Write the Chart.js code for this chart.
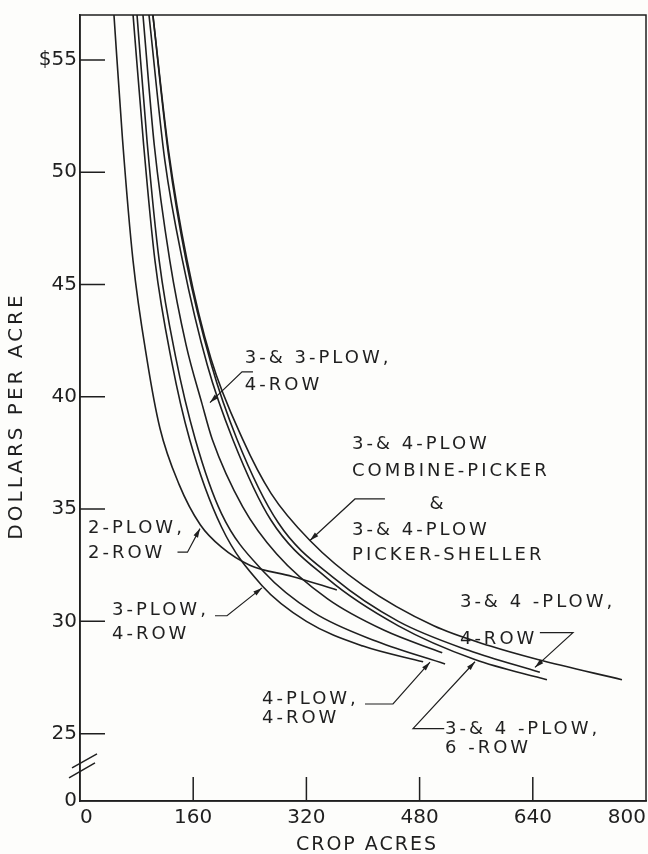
<!DOCTYPE html>
<html>
<head>
<meta charset="utf-8">
<script src="https://cdn.jsdelivr.net/npm/chart.js@4.4.0/dist/chart.umd.min.js"></script>
<style>
  html, body { margin: 0; padding: 0; background: #fdfdfb; }
  #wrap { width: 648px; height: 854px; }
</style>
</head>
<body>
<div id="wrap"><canvas id="chart" width="648" height="854"></canvas></div>
<script>
// crop acres -> dollars per acre
const twoPlow2Row = [[48,57],[60,51.5],[75,46.05],[95,41.6],[113,38.6],[140,36.1],[170,34.3],[200,33.3],[240,32.5],[300,32.0],[363,31.4]];
const threePlow4Row = [[75,57],[90,51.2],[106,46.05],[130,41.5],[155,38.1],[200,34.2],[257,31.6],[320,30.0],[400,28.9],[485,28.2]];
const fourPlow4Row = [[80.6,57],[95,51.3],[112,46.05],[135,41.8],[163,38.1],[200,34.8],[260,32.2],[330,30.4],[420,29.1],[516,28.1]];
const threeThreePlow4Row = [[89,57],[105,51.2],[127,46.05],[150,42.3],[172,39.74],[187,38.1],[230,35.1],[278,33.0],[350,31.0],[430,29.6],[512,28.6]];
const pickerCombos = [[103,57],[125,50.8],[150,46.05],[185,41.5],[222,38.1],[280,34.4],[360,31.9],[450,30.0],[550,28.7],[650,27.73]];
const threeFourPlow6Row = [[97.5,57],[120,50.5],[145,46.05],[180,41.4],[216,38.1],[270,34.5],[350,31.9],[450,29.8],[558,28.3],[660,27.4]];
const threeFourPlow4Row = [[103,57],[125,51],[151.5,46.05],[185,41.7],[230,38.1],[270,35.7],[325,33.6],[400,31.6],[500,29.8],[580,28.9],[647,28.3],[766,27.4]];

const series = [twoPlow2Row, threePlow4Row, fourPlow4Row, threeThreePlow4Row, pickerCombos, threeFourPlow6Row, threeFourPlow4Row];

const xTicks = [0, 160, 320, 480, 640, 800];
const yTicks = [22, 25, 30, 35, 40, 45, 50, 55];
const yTickLabels = ['0', '25', '30', '35', '40', '45', '50', '$55'];

// curve labels: text, acres, dollars, align
const labels = [
  ['3-& 3-PLOW,', 233, 41.72],
  ['4-ROW', 233, 40.53],
  ['3-& 4-PLOW', 384.5, 37.88],
  ['COMBINE-PICKER', 384.5, 36.69],
  ['&', 506, 35.23, 'center'],
  ['3-& 4-PLOW', 384.5, 34.04],
  ['PICKER-SHELLER', 384.5, 32.94],
  ['2-PLOW,', 11.3, 34.13],
  ['2-ROW', 11.3, 33.03],
  ['3-PLOW,', 45.2, 30.47],
  ['4-ROW', 45.2, 29.41],
  ['4-PLOW,', 257.2, 26.54],
  ['4-ROW', 257.2, 25.66],
  ['3-& 4 -PLOW,', 515.9, 25.17],
  ['6 -ROW', 515.9, 24.33],
  ['3-& 4 -PLOW,', 537, 30.85],
  ['4-ROW', 537, 29.2]
];

// leader lines, last point gets the arrow head
const leaders = [
  [[244.5,41.11],[229,41.11],[183.7,39.74]],
  [[431,35.45],[388.7,35.45],[325,33.6]],
  [[137.8,33.08],[151.9,33.08],[169.6,34.13]],
  [[190.8,30.25],[207.8,30.25],[257.2,31.49]],
  [[402.8,26.32],[442.4,26.32],[494.7,28.18]],
  [[514.8,25.22],[470.7,25.22],[558.3,28.2]],
  [[650,29.5],[696.8,29.5],[643,27.95]]
];

const ink = '#1f1f1f';
const face = "'DejaVu Sans', sans-serif";

const decor = {
  id: 'decor',
  afterDraw(chart) {
    const {ctx, chartArea: a, scales: {x, y}} = chart;
    ctx.save();
    ctx.strokeStyle = ink;
    ctx.fillStyle = ink;
    ctx.lineWidth = 1.5;
    ctx.strokeRect(a.left, a.top, a.right - a.left, a.bottom - a.top);

    // tick marks point into the plot
    ctx.beginPath();
    yTicks.slice(1).forEach(v => {
      const p = y.getPixelForValue(v);
      ctx.moveTo(a.left, p);
      ctx.lineTo(a.left + 25, p);
    });
    xTicks.slice(1, -1).forEach(v => {
      const p = x.getPixelForValue(v);
      ctx.moveTo(p, a.bottom);
      ctx.lineTo(p, a.bottom - 24);
    });
    ctx.stroke();

    // axis break
    const b = y.getPixelForValue(23.3);
    ctx.beginPath();
    ctx.moveTo(a.left - 8, b - 4); ctx.lineTo(a.left + 17, b - 18);
    ctx.moveTo(a.left - 11, b + 6); ctx.lineTo(a.left + 15, b - 9);
    ctx.stroke();

    // leaders
    ctx.lineWidth = 1.2;
    leaders.forEach(pts => {
      const px = pts.map(p => [x.getPixelForValue(p[0]), y.getPixelForValue(p[1])]);
      ctx.beginPath();
      px.forEach((p, i) => i ? ctx.lineTo(p[0], p[1]) : ctx.moveTo(p[0], p[1]));
      ctx.stroke();
      const [tx, ty] = px[px.length - 1];
      const [fx, fy] = px[px.length - 2];
      const ang = Math.atan2(ty - fy, tx - fx);
      ctx.beginPath();
      ctx.moveTo(tx, ty);
      ctx.lineTo(tx - 9 * Math.cos(ang) + 2.5 * Math.sin(ang), ty - 9 * Math.sin(ang) - 2.5 * Math.cos(ang));
      ctx.lineTo(tx - 9 * Math.cos(ang) - 2.5 * Math.sin(ang), ty - 9 * Math.sin(ang) + 2.5 * Math.cos(ang));
      ctx.closePath();
      ctx.fill();
    });

    // curve labels
    ctx.font = '18px ' + face;
    ctx.letterSpacing = '3px';
    ctx.textBaseline = 'middle';
    labels.forEach(l => {
      ctx.textAlign = l[3] || 'left';
      ctx.fillText(l[0], x.getPixelForValue(l[1]), y.getPixelForValue(l[2]));
    });

    // axis titles
    ctx.textAlign = 'center';
    ctx.font = '19px ' + face;
    ctx.letterSpacing = '2px';
    ctx.fillText('CROP ACRES', (a.left + a.right) / 2 + 4, 845);
    ctx.translate(17, 416);
    ctx.rotate(-Math.PI / 2);
    ctx.font = '20px ' + face;
    ctx.letterSpacing = '3px';
    ctx.fillText('DOLLARS PER ACRE', 0, 0);
    ctx.restore();
  }
};

new Chart(document.getElementById('chart'), {
  type: 'scatter',
  data: {
    datasets: series.map(s => ({
      data: s.map(p => ({x: p[0], y: p[1]})),
      showLine: true,
      pointRadius: 0,
      borderColor: ink,
      borderWidth: 1.6,
      cubicInterpolationMode: 'monotone'
    }))
  },
  options: {
    responsive: false,
    animation: false,
    layout: {padding: {top: 13, right: 2, left: 0, bottom: 0}},
    plugins: {legend: {display: false}, tooltip: {enabled: false}},
    scales: {
      x: {
        type: 'linear',
        min: 0,
        max: 800,
        afterBuildTicks: s => { s.ticks = xTicks.map(v => ({value: v})); },
        afterFit: s => { s.height = 53; s.paddingLeft = 0; s.paddingRight = 0; },
        grid: {display: false, drawTicks: false},
        border: {display: true, color: ink, width: 1.5},
        ticks: {color: ink, font: {family: face, size: 20}, align: 'inner', padding: 5, maxRotation: 0}
      },
      y: {
        type: 'linear',
        min: 22,
        max: 57,
        afterBuildTicks: s => { s.ticks = yTicks.map(v => ({value: v})); },
        afterFit: s => { s.width = 80; },
        grid: {display: false, drawTicks: false},
        border: {display: true, color: ink, width: 1.5},
        ticks: {
          color: ink,
          font: {family: face, size: 20},
          padding: 3,
          callback: v => yTickLabels[yTicks.indexOf(v)]
        }
      }
    }
  },
  plugins: [decor]
});
</script>
</body>
</html>
